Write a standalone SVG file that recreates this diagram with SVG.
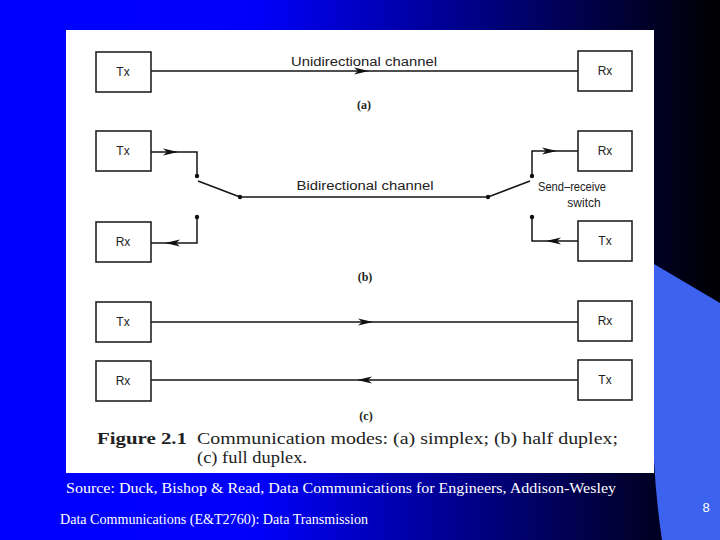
<svg xmlns="http://www.w3.org/2000/svg" xmlns:xlink="http://www.w3.org/1999/xlink" width="720" height="540" viewBox="0 0 720 540">
<defs>
<linearGradient id="bg" x1="0" y1="0" x2="1" y2="0">
<stop offset="0" stop-color="#0000FF"/>
<stop offset="0.36" stop-color="#0000FA"/>
<stop offset="1" stop-color="#000000"/>
</linearGradient>
<path id="ah" d="M0,0 L-15,-3.5 L-11,0 L-15,3.5 Z" fill="#111"/>
</defs>
<style>
.box{fill:#fff;stroke:#222;stroke-width:1.6}
.lbl{font-family:"Liberation Sans",Arial,sans-serif;font-size:12px;fill:#222;text-anchor:middle}
.ln{fill:none;stroke:#151515;stroke-width:1.5}
.tag{font-family:"Liberation Serif","Times New Roman",serif;font-size:12px;font-weight:bold;fill:#222;text-anchor:middle}
.cap{font-family:"Liberation Serif","Times New Roman",serif;font-size:17.5px;fill:#222}
.wt{font-family:"Liberation Serif","Times New Roman",serif;fill:#fff}
.dot{fill:#111}
</style>
<rect x="0" y="0" width="720" height="540" fill="url(#bg)"/>
<path d="M654,264 L720,303 L720,540 L662,540 Q656,500 654,460 Z" fill="#3D62F0"/>
<rect x="66" y="30" width="588" height="443" fill="#fff"/>

<g id="connectors">
<!-- (a) -->
<line class="ln" x1="151" y1="71" x2="578" y2="71"/>
<use xlink:href="#ah" transform="translate(369,71)"/>
<!-- (b) left -->
<polyline class="ln" points="151,152 197,152 197,176"/>
<use xlink:href="#ah" transform="translate(178,152)"/>
<line class="ln" x1="198" y1="181" x2="240" y2="197"/>
<polyline class="ln" points="197,217 197,243 151,243"/>
<use xlink:href="#ah" transform="translate(165,243) rotate(180)"/>
<!-- channel -->
<line class="ln" x1="240" y1="197" x2="488" y2="197"/>
<!-- (b) right -->
<line class="ln" x1="488" y1="197" x2="530" y2="181"/>
<polyline class="ln" points="532,176 532,151 578,151"/>
<use xlink:href="#ah" transform="translate(557,151)"/>
<polyline class="ln" points="532,217 532,241 578,241"/>
<use xlink:href="#ah" transform="translate(546,241) rotate(180)"/>
<!-- (c) -->
<line class="ln" x1="151" y1="322" x2="578" y2="322"/>
<use xlink:href="#ah" transform="translate(373,322)"/>
<line class="ln" x1="151" y1="380" x2="578" y2="380"/>
<use xlink:href="#ah" transform="translate(357,380) rotate(180)"/>
<!-- switch contacts -->
<circle class="dot" cx="197" cy="176" r="2.2"/>
<circle class="dot" cx="240" cy="197" r="2.2"/>
<circle class="dot" cx="197" cy="217" r="2.2"/>
<circle class="dot" cx="532" cy="176" r="2.2"/>
<circle class="dot" cx="488" cy="197" r="2.2"/>
<circle class="dot" cx="532" cy="217" r="2.2"/>
</g>

<g id="a_tx"><rect class="box" x="96" y="52" width="55" height="40"/><text class="lbl" x="123" y="76">Tx</text></g>
<g id="a_rx"><rect class="box" x="578" y="51" width="54" height="40"/><text class="lbl" x="605" y="75">Rx</text></g>
<text class="lbl" x="364" y="66" textLength="146" lengthAdjust="spacingAndGlyphs">Unidirectional channel</text>
<text class="tag" x="364" y="109">(a)</text>

<g id="b_tx_l"><rect class="box" x="96" y="131" width="55" height="40"/><text class="lbl" x="123" y="155">Tx</text></g>
<g id="b_rx_l"><rect class="box" x="96" y="222" width="55" height="40"/><text class="lbl" x="123" y="246">Rx</text></g>
<g id="b_rx_r"><rect class="box" x="578" y="131" width="54" height="40"/><text class="lbl" x="605" y="155">Rx</text></g>
<g id="b_tx_r"><rect class="box" x="578" y="221" width="54" height="40"/><text class="lbl" x="605" y="245">Tx</text></g>
<text class="lbl" x="365" y="190" textLength="137" lengthAdjust="spacingAndGlyphs">Bidirectional channel</text>
<text class="lbl" x="572" y="191" textLength="68" lengthAdjust="spacingAndGlyphs">Send–receive</text>
<text class="lbl" x="584" y="207">switch</text>
<text class="tag" x="365" y="281">(b)</text>

<g id="c_tx_l"><rect class="box" x="96" y="302" width="55" height="40"/><text class="lbl" x="123" y="326">Tx</text></g>
<g id="c_rx_r"><rect class="box" x="578" y="301" width="54" height="40"/><text class="lbl" x="605" y="325">Rx</text></g>
<g id="c_rx_l"><rect class="box" x="96" y="361" width="55" height="40"/><text class="lbl" x="123" y="385">Rx</text></g>
<g id="c_tx_r"><rect class="box" x="578" y="360" width="54" height="40"/><text class="lbl" x="605" y="384">Tx</text></g>
<text class="tag" x="366" y="420">(c)</text>

<text class="cap" x="97" y="444" font-weight="bold" textLength="90" lengthAdjust="spacingAndGlyphs">Figure 2.1</text>
<text class="cap" x="197" y="444" textLength="421" lengthAdjust="spacingAndGlyphs">Communication modes: (a) simplex; (b) half duplex;</text>
<text class="cap" x="197" y="463" textLength="110" lengthAdjust="spacingAndGlyphs">(c) full duplex.</text>

<text class="wt" x="66" y="493" font-size="15.5" textLength="550" lengthAdjust="spacingAndGlyphs">Source: Duck, Bishop &amp; Read, Data Communications for Engineers, Addison-Wesley</text>
<text class="wt" x="60" y="524" font-size="14.5" textLength="308" lengthAdjust="spacingAndGlyphs">Data Communications (E&amp;T2760): Data Transmission</text>
<text x="706" y="512" font-family="'Liberation Sans',Arial,sans-serif" font-size="13" fill="#fff" text-anchor="middle">8</text>
</svg>
